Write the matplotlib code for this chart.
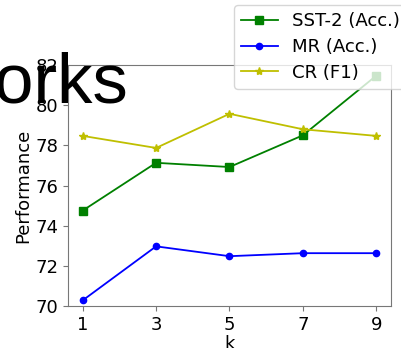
import matplotlib
matplotlib.use("Agg")
import matplotlib.pyplot as plt

# performance vs. k on three benchmarks
ks = [1, 3, 5, 7, 9]
sst2_acc = [74.75, 77.13, 76.92, 78.50, 81.47]
mr_acc = [70.28, 72.97, 72.48, 72.63, 72.63]
cr_f1 = [78.47, 77.87, 79.57, 78.80, 78.47]
labels = ["SST-2 (Acc.)", "MR (Acc.)", "CR (F1)"]

fig = plt.figure(figsize=(4.01, 3.48), dpi=100)
ax = fig.add_axes([0.1696, 0.1207, 0.8054, 0.6925])

ax.plot(ks, sst2_acc, color="g", marker="s", markersize=5.5, linewidth=1.3, label=labels[0])
ax.plot(ks, mr_acc, color="b", marker="o", markersize=4.5, linewidth=1.3, label=labels[1])
ax.plot(ks, cr_f1, color="y", marker="*", markersize=6, linewidth=1.3, label=labels[2])

ax.set_ylim(70, 82)
ax.set_xticks(ks)
ax.set_yticks([70, 72, 74, 76, 78, 80, 82])
ax.tick_params(labelsize=13, color="#777777")
for sp in ax.spines.values():
    sp.set_color("#777777")
ax.set_xlabel("k", fontsize=13, labelpad=1)
ax.set_ylabel("Performance", fontsize=13, labelpad=2)

ax.legend(loc="upper left", bbox_to_anchor=(234 / 401, 1 - 5 / 348),
          bbox_transform=fig.transFigure, borderaxespad=0, fontsize=13.1,
          labelspacing=0.42)

# large heading running in from the left edge
fig.text(128 / 401, 1 - 103 / 348, "orks", fontsize=51, family="Liberation Sans",
         ha="right", va="baseline")

fig.savefig("out.png", dpi=100)
